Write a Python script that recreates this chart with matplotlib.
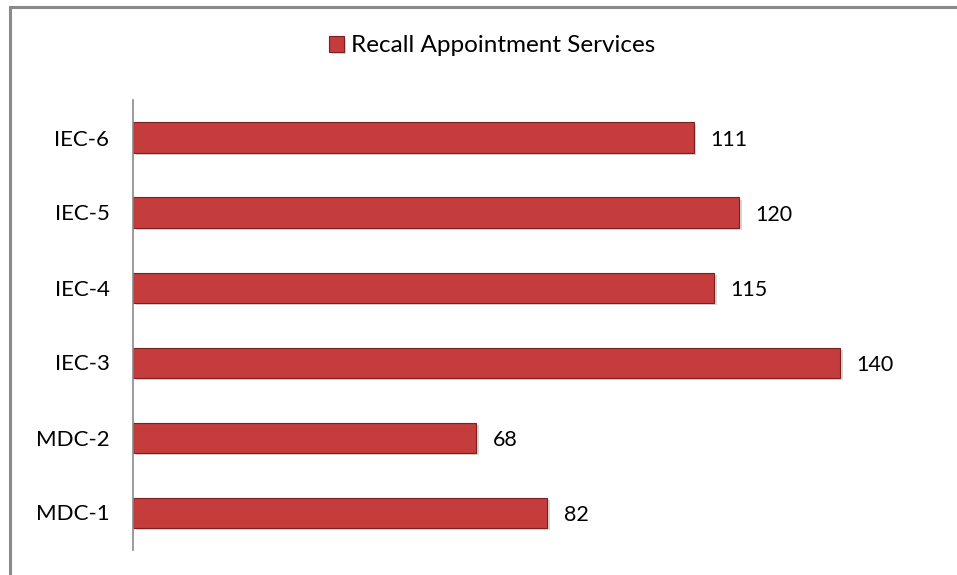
import matplotlib
matplotlib.use("Agg")
from matplotlib import pyplot as plt
from matplotlib import patheffects as pe
from matplotlib.patches import Rectangle

# data (bottom to top)
categories = ["MDC-1", "MDC-2", "IEC-3", "IEC-4", "IEC-5", "IEC-6"]
values = [82, 68, 140, 115, 120, 111]
series_name = "Recall Appointment Services"

plt.rcParams["font.family"] = ["Lato", "DejaVu Sans"]

fig = plt.figure(figsize=(9.57, 5.75), dpi=100)
W, H = 957, 575

# outer chart border (runs off the right and bottom edges)
fig.patches.append(Rectangle((9.5 / W, -0.1), 1.2, (575 - 6.5) / H + 0.1,
                             transform=fig.transFigure, fill=False,
                             edgecolor="#8a8a8a", linewidth=2.2))

ax = fig.add_axes([133 / W, 25 / H, 757.5 / W, 450 / H])
bar_color = "#c43c3c"
bars = ax.barh(categories, values, height=0.4, color=bar_color,
               edgecolor="#7a2020", linewidth=0.8, label=series_name)
for b in bars:
    b.set_path_effects([pe.SimplePatchShadow(offset=(2, -2), shadow_rgbFace="#bbbbbb", alpha=0.6),
                        pe.Normal()])

for i, v in enumerate(values):
    ax.text(v + 3.3, i - 0.03, str(v), va="center", ha="left", fontsize=15.5, color="black")

ax.set_xlim(0, 150)
ax.set_ylim(-0.5, len(categories) - 0.5)
for s in ["top", "right", "bottom"]:
    ax.spines[s].set_visible(False)
ax.spines["left"].set_color("#8a8a8a")
ax.spines["left"].set_linewidth(1.2)
ax.set_xticks([])
ax.tick_params(axis="y", length=0, labelsize=16, pad=17)

fig.legend(handles=[bars], labels=[series_name], loc="center",
           bbox_to_anchor=(492 / W, 1 - 46 / H), frameon=False, fontsize=17.5,
           handlelength=0.6, handleheight=0.6, handletextpad=0.3)

fig.savefig("out.png", dpi=100)
